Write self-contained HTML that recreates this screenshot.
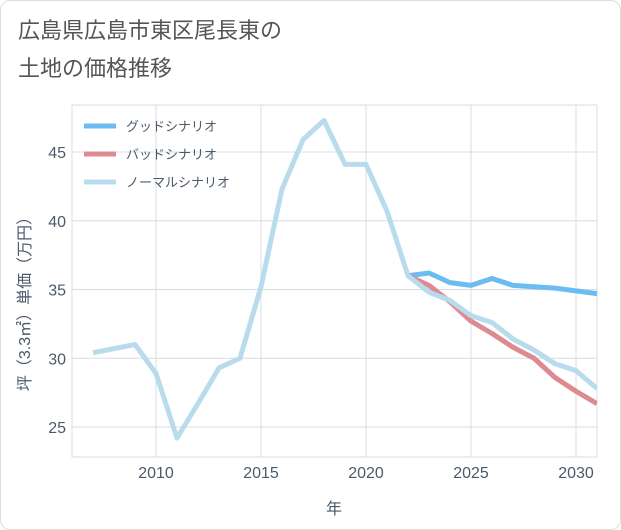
<!DOCTYPE html>
<html><head><meta charset="utf-8"><style>
body{margin:0;background:#fff;font-family:"Liberation Sans","Noto Sans CJK JP",sans-serif;}
#card{position:absolute;left:0;top:0;width:619px;height:528px;border:1px solid #ddd;border-radius:10px;background:#fff;}
#title{position:absolute;left:18px;top:12px;font-size:22px;line-height:38px;color:#555;}
svg{position:absolute;left:0;top:0;}
</style></head><body>
<div id="card"></div>
<div id="title">広島県広島市東区尾長東の<br>土地の価格推移</div>
<svg id="chart" width="621" height="530"></svg>
<script>
const years=[2007,2008,2009,2010,2011,2012,2013,2014,2015,2016,2017,2018,2019,2020,2021,2022,2023,2024,2025,2026,2027,2028,2029,2030,2031];
const normal=[30.4,30.7,31.0,28.9,24.2,26.7,29.3,30.0,35.2,42.3,45.9,47.3,44.1,44.1,40.7,36.0,34.8,34.2,33.1,32.6,31.4,30.6,29.6,29.1,27.8];
const futureYears=[2022,2023,2024,2025,2026,2027,2028,2029,2030,2031];
const good=[36.0,36.2,35.5,35.3,35.8,35.3,35.2,35.1,34.9,34.7];
const bad=[36.0,35.3,34.1,32.7,31.8,30.8,30.0,28.6,27.6,26.7];
const xTicks=[2010,2015,2020,2025,2030];
const yTicks=[25,30,35,40,45];
const L=72,R=597,T=105,B=457;
const x=v=>L+(v-2006)*(R-L)/25;
const y=v=>152+(45-v)*13.75;
const svg=document.getElementById('chart');
const NS='http://www.w3.org/2000/svg';
function add(tag,attrs,parent){const e=document.createElementNS(NS,tag);for(const k in attrs)e.setAttribute(k,attrs[k]);(parent||svg).appendChild(e);return e;}
add('rect',{x:L,y:T,width:R-L,height:B-T,fill:'none',stroke:'#d8dde3'});
xTicks.forEach(t=>{
 const g=add('line',{x1:x(t),x2:x(t),y1:T,y2:B,stroke:'#d8dde3'});
 
 const tx=add('text',{x:x(t),y:478,'text-anchor':'middle','font-size':16,fill:'#4a5a6a'});tx.textContent=t;
 
});
yTicks.forEach(t=>{
 const g=add('line',{x1:L,x2:R,y1:y(t),y2:y(t),stroke:'#d8dde3'});
 
 const tx=add('text',{x:66,y:y(t)+6,'text-anchor':'end','font-size':16,fill:'#4a5a6a'});tx.textContent=t;
 
});
const xt=add('text',{x:334,y:514,'text-anchor':'middle','font-size':16,fill:'#4a5a6a'});xt.textContent='年';

const yt=add('text',{x:0,y:0,'text-anchor':'middle','font-size':16,fill:'#4a5a6a',transform:'translate(30,300) rotate(-90)'});yt.textContent='坪（3.3㎡）単価（万円）';

const clip=add('clipPath',{id:'c'});add('rect',{x:L,y:T,width:R-L,height:B-T},clip);
function line(xs,vs,color,name){
 const p=add('polyline',{points:xs.map((v,i)=>x(v)+','+y(vs[i])).join(' '),fill:'none',stroke:color,'stroke-width':5,'stroke-linejoin':'round','clip-path':'url(#c)'});
 
}
line(futureYears,good,'#6bbcf0','good-scenario-line');
line(futureYears,bad,'#de8a91','bad-scenario-line');
line(years,normal,'#b9dcec','normal-scenario-line');
const leg=[['グッドシナリオ','#6bbcf0'],['バッドシナリオ','#de8a91'],['ノーマルシナリオ','#b9dcec']];
leg.forEach((l,i)=>{
 const yy=126+i*28;
 const s=add('line',{x1:84,x2:116,y1:yy,y2:yy,stroke:l[1],'stroke-width':5});
 
 const t=add('text',{x:126,y:yy+5,'font-size':13,fill:'#4a5a6a'});t.textContent=l[0];
 
});
</script>
</body></html>
